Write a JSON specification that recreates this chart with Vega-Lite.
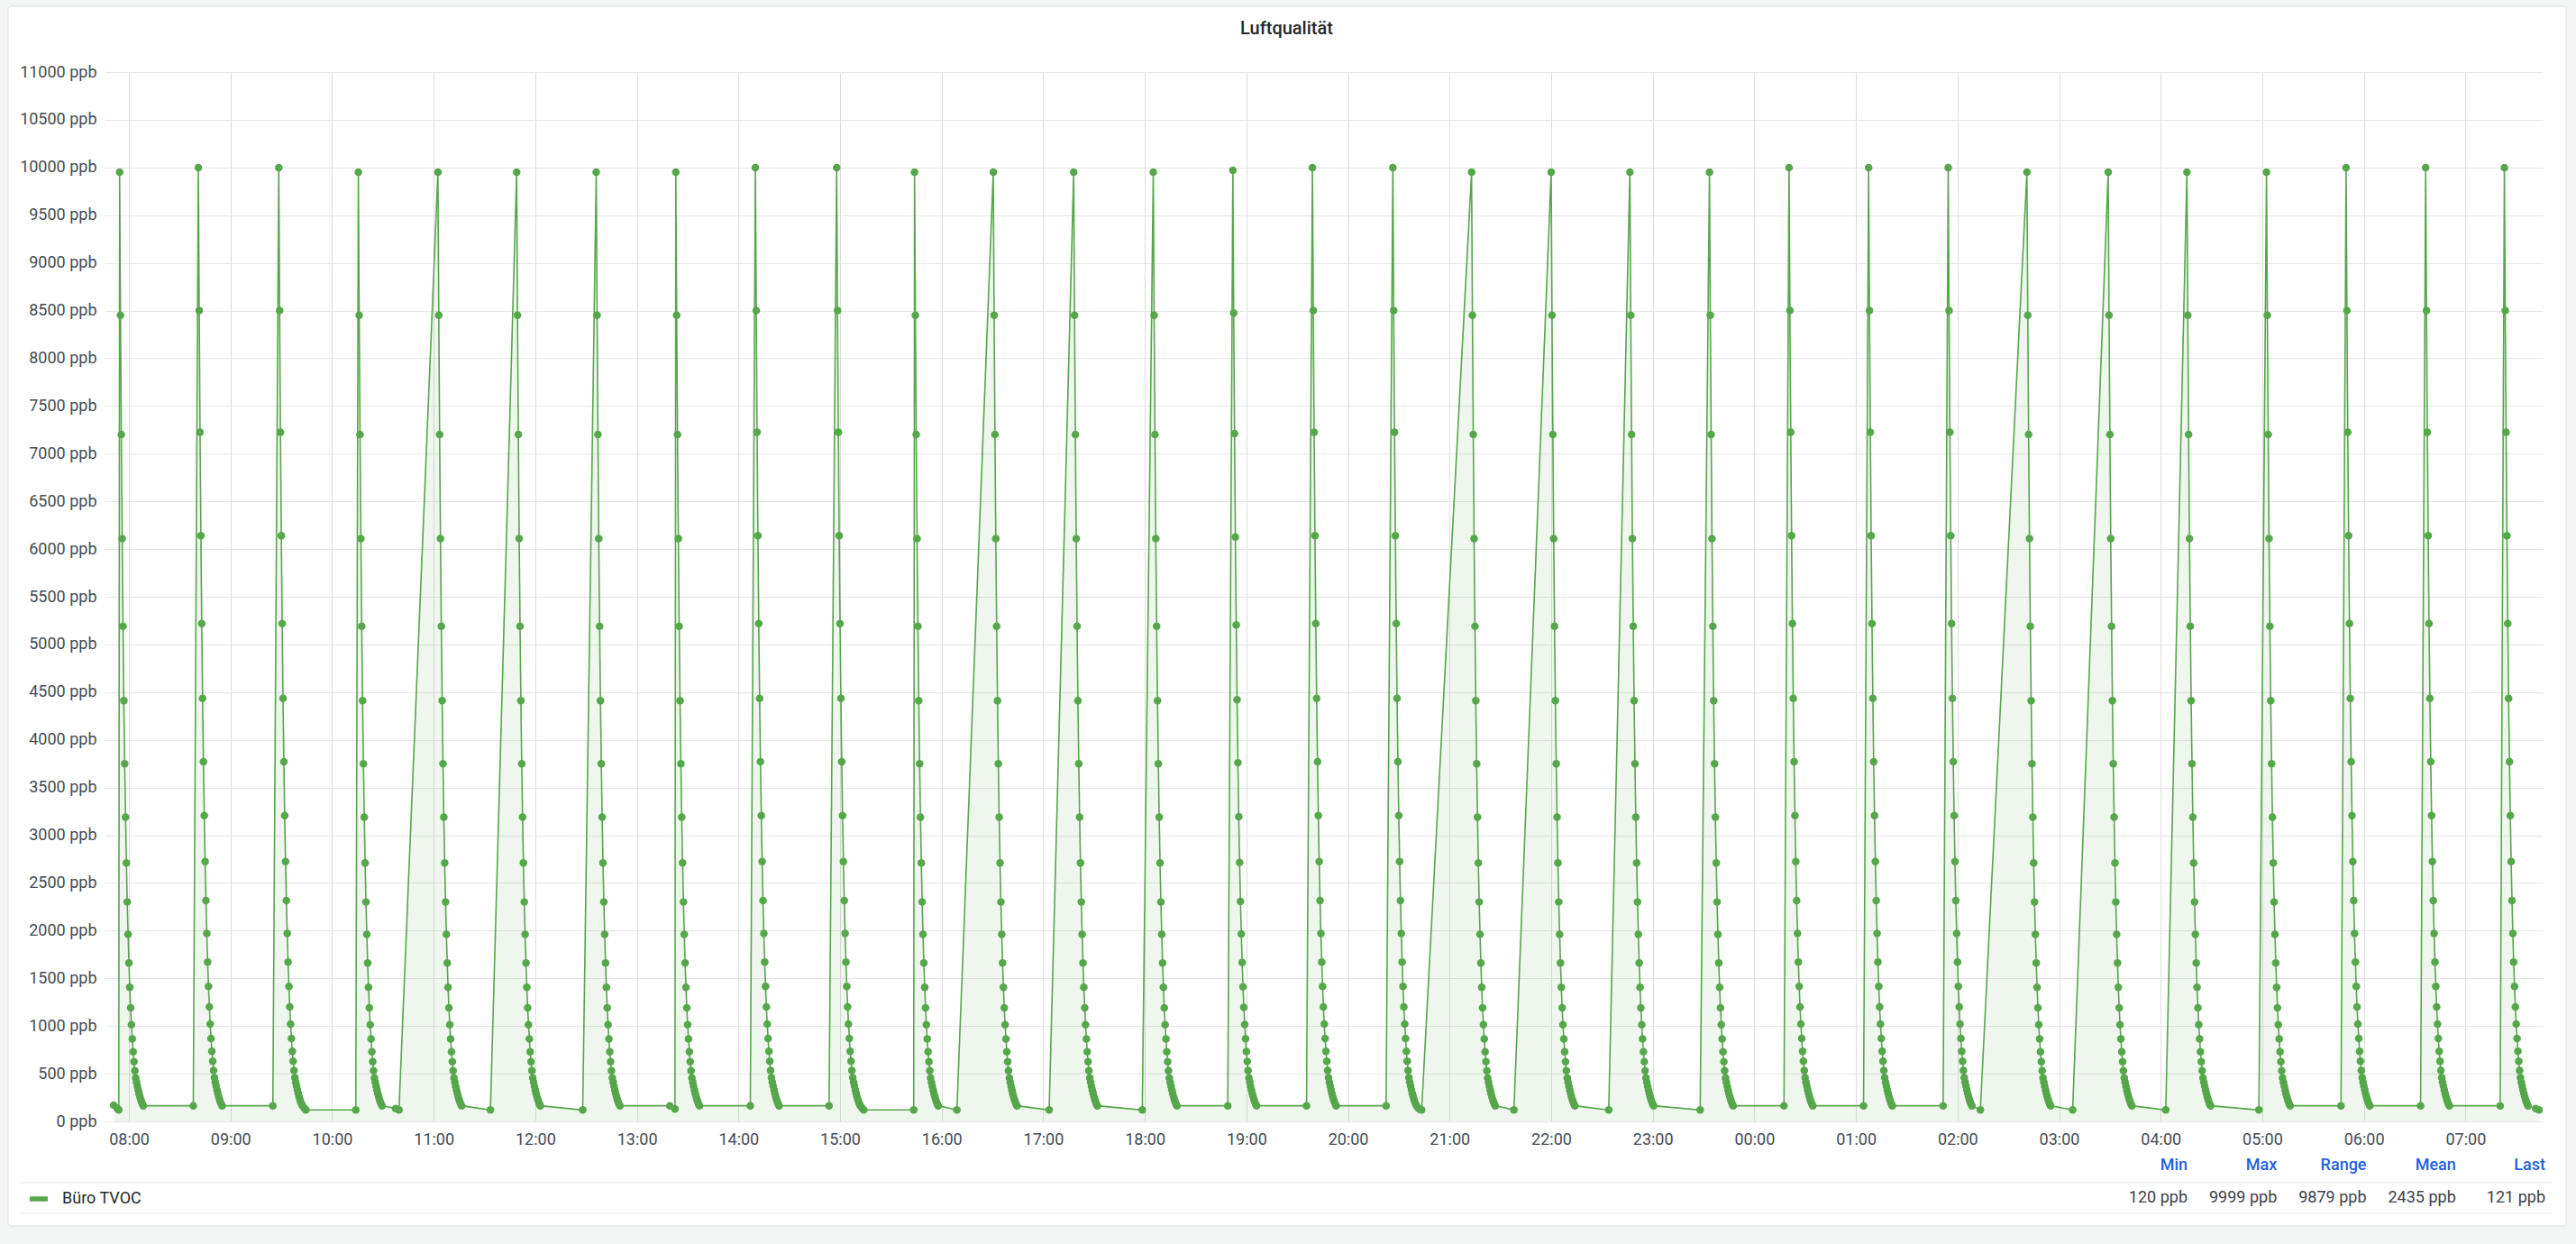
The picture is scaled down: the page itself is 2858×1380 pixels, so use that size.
{
"$schema": "https://vega.github.io/schema/vega-lite/v6.json",
"autosize": {"type": "none"},
"width": 2705,
"height": 1164,
"padding": {"left": 116, "top": 80, "right": 37, "bottom": 136},
"background": "white",
"title": {"text": "Luftqualität", "font": "Roboto", "fontSize": 20, "fontWeight": 500, "color": "#24292e", "anchor": "middle", "frame": "group", "dx": -41, "offset": -71, "baseline": "alphabetic"},
"config": {
  "view": {"stroke": null},
  "font": "Roboto",
  "axis": {"labelFont": "Roboto", "labelFontSize": 18, "labelColor": "#464c54", "domain": false, "ticks": false, "title": null, "labelOverlap": false, "labelFlush": false}
},
"datasets": {
"stats": [{"stat":"Min","value":"120 ppb"},{"stat":"Max","value":"9999 ppb"},{"stat":"Range","value":"9879 ppb"},{"stat":"Mean","value":"2435 ppb"},{"stat":"Last","value":"121 ppb"}],
"tvoc": [
{"t":-9,"v":170},{"t":-7,"v":140},{"t":-6,"v":120},
{"t":-5.5,"v":9950},{"t":-5,"v":8450},{"t":-4.5,"v":7200},{"t":-4,"v":6110},{"t":-3.5,"v":5190},{"t":-3,"v":4410},{"t":-2.5,"v":3750},{"t":-2,"v":3190},{"t":-1.5,"v":2710},{"t":-1,"v":2300},{"t":-0.5,"v":1960},{"t":0,"v":1660},{"t":0.5,"v":1405},{"t":1,"v":1190},{"t":1.5,"v":1013},{"t":2,"v":865},{"t":2.5,"v":730},{"t":3,"v":626},{"t":3.5,"v":532},{"t":4,"v":455},{"t":4.5,"v":410},{"t":5,"v":368},{"t":5.5,"v":328},{"t":6,"v":290},{"t":6.5,"v":258},{"t":7,"v":228},{"t":7.5,"v":202},{"t":8,"v":180},{"t":8.5,"v":164},
{"t":38,"v":164},
{"t":41,"v":9999},{"t":41.5,"v":8500},{"t":42,"v":7225},{"t":42.5,"v":6140},{"t":43,"v":5220},{"t":43.5,"v":4435},{"t":44,"v":3770},{"t":44.5,"v":3205},{"t":45,"v":2725},{"t":45.5,"v":2315},{"t":46,"v":1970},{"t":46.5,"v":1670},{"t":47,"v":1415},{"t":47.5,"v":1200},{"t":48,"v":1020},{"t":48.5,"v":870},{"t":49,"v":735},{"t":49.5,"v":630},{"t":50,"v":535},{"t":50.5,"v":458},{"t":51,"v":412},{"t":51.5,"v":370},{"t":52,"v":330},{"t":52.5,"v":292},{"t":53,"v":260},{"t":53.5,"v":230},{"t":54,"v":203},{"t":54.5,"v":181},{"t":55,"v":164},
{"t":85,"v":164},
{"t":88.5,"v":9999},{"t":89,"v":8500},{"t":89.5,"v":7225},{"t":90,"v":6140},{"t":90.5,"v":5220},{"t":91,"v":4435},{"t":91.5,"v":3770},{"t":92,"v":3205},{"t":92.5,"v":2725},{"t":93,"v":2315},{"t":93.5,"v":1970},{"t":94,"v":1670},{"t":94.5,"v":1415},{"t":95,"v":1200},{"t":95.5,"v":1020},{"t":96,"v":870},{"t":96.5,"v":735},{"t":97,"v":630},{"t":97.5,"v":535},{"t":98,"v":458},{"t":98.5,"v":412},{"t":99,"v":370},{"t":99.5,"v":330},{"t":100,"v":292},{"t":100.5,"v":260},{"t":101,"v":230},{"t":101.5,"v":203},{"t":102,"v":181},{"t":102.5,"v":164},
{"t":103.5,"v":140},{"t":104.5,"v":120},
{"t":134,"v":120},
{"t":135.5,"v":9950},{"t":136,"v":8450},{"t":136.5,"v":7200},{"t":137,"v":6110},{"t":137.5,"v":5190},{"t":138,"v":4410},{"t":138.5,"v":3750},{"t":139,"v":3190},{"t":139.5,"v":2710},{"t":140,"v":2300},{"t":140.5,"v":1960},{"t":141,"v":1660},{"t":141.5,"v":1405},{"t":142,"v":1190},{"t":142.5,"v":1013},{"t":143,"v":865},{"t":143.5,"v":730},{"t":144,"v":626},{"t":144.5,"v":532},{"t":145,"v":455},{"t":145.5,"v":410},{"t":146,"v":368},{"t":146.5,"v":328},{"t":147,"v":290},{"t":147.5,"v":258},{"t":148,"v":228},{"t":148.5,"v":202},{"t":149,"v":180},{"t":149.5,"v":164},
{"t":157.5,"v":135},{"t":159.5,"v":120},
{"t":182.5,"v":9950},{"t":183,"v":8450},{"t":183.5,"v":7200},{"t":184,"v":6110},{"t":184.5,"v":5190},{"t":185,"v":4410},{"t":185.5,"v":3750},{"t":186,"v":3190},{"t":186.5,"v":2710},{"t":187,"v":2300},{"t":187.5,"v":1960},{"t":188,"v":1660},{"t":188.5,"v":1405},{"t":189,"v":1190},{"t":189.5,"v":1013},{"t":190,"v":865},{"t":190.5,"v":730},{"t":191,"v":626},{"t":191.5,"v":532},{"t":192,"v":455},{"t":192.5,"v":410},{"t":193,"v":368},{"t":193.5,"v":328},{"t":194,"v":290},{"t":194.5,"v":258},{"t":195,"v":228},{"t":195.5,"v":202},{"t":196,"v":180},{"t":196.5,"v":164},
{"t":213.5,"v":120},
{"t":229,"v":9950},{"t":229.5,"v":8450},{"t":230,"v":7200},{"t":230.5,"v":6110},{"t":231,"v":5190},{"t":231.5,"v":4410},{"t":232,"v":3750},{"t":232.5,"v":3190},{"t":233,"v":2710},{"t":233.5,"v":2300},{"t":234,"v":1960},{"t":234.5,"v":1660},{"t":235,"v":1405},{"t":235.5,"v":1190},{"t":236,"v":1013},{"t":236.5,"v":865},{"t":237,"v":730},{"t":237.5,"v":626},{"t":238,"v":532},{"t":238.5,"v":455},{"t":239,"v":410},{"t":239.5,"v":368},{"t":240,"v":328},{"t":240.5,"v":290},{"t":241,"v":258},{"t":241.5,"v":228},{"t":242,"v":202},{"t":242.5,"v":180},{"t":243,"v":164},
{"t":268,"v":120},
{"t":276,"v":9950},{"t":276.5,"v":8450},{"t":277,"v":7200},{"t":277.5,"v":6110},{"t":278,"v":5190},{"t":278.5,"v":4410},{"t":279,"v":3750},{"t":279.5,"v":3190},{"t":280,"v":2710},{"t":280.5,"v":2300},{"t":281,"v":1960},{"t":281.5,"v":1660},{"t":282,"v":1405},{"t":282.5,"v":1190},{"t":283,"v":1013},{"t":283.5,"v":865},{"t":284,"v":730},{"t":284.5,"v":626},{"t":285,"v":532},{"t":285.5,"v":455},{"t":286,"v":410},{"t":286.5,"v":368},{"t":287,"v":328},{"t":287.5,"v":290},{"t":288,"v":258},{"t":288.5,"v":228},{"t":289,"v":202},{"t":289.5,"v":180},{"t":290,"v":164},
{"t":319.5,"v":164},{"t":322.5,"v":130},
{"t":323,"v":9950},{"t":323.5,"v":8450},{"t":324,"v":7200},{"t":324.5,"v":6110},{"t":325,"v":5190},{"t":325.5,"v":4410},{"t":326,"v":3750},{"t":326.5,"v":3190},{"t":327,"v":2710},{"t":327.5,"v":2300},{"t":328,"v":1960},{"t":328.5,"v":1660},{"t":329,"v":1405},{"t":329.5,"v":1190},{"t":330,"v":1013},{"t":330.5,"v":865},{"t":331,"v":730},{"t":331.5,"v":626},{"t":332,"v":532},{"t":332.5,"v":455},{"t":333,"v":410},{"t":333.5,"v":368},{"t":334,"v":328},{"t":334.5,"v":290},{"t":335,"v":258},{"t":335.5,"v":228},{"t":336,"v":202},{"t":336.5,"v":180},{"t":337,"v":164},
{"t":367,"v":164},
{"t":370,"v":9999},{"t":370.5,"v":8500},{"t":371,"v":7225},{"t":371.5,"v":6140},{"t":372,"v":5220},{"t":372.5,"v":4435},{"t":373,"v":3770},{"t":373.5,"v":3205},{"t":374,"v":2725},{"t":374.5,"v":2315},{"t":375,"v":1970},{"t":375.5,"v":1670},{"t":376,"v":1415},{"t":376.5,"v":1200},{"t":377,"v":1020},{"t":377.5,"v":870},{"t":378,"v":735},{"t":378.5,"v":630},{"t":379,"v":535},{"t":379.5,"v":458},{"t":380,"v":412},{"t":380.5,"v":370},{"t":381,"v":330},{"t":381.5,"v":292},{"t":382,"v":260},{"t":382.5,"v":230},{"t":383,"v":203},{"t":383.5,"v":181},{"t":384,"v":164},
{"t":413.5,"v":164},
{"t":418,"v":9999},{"t":418.5,"v":8500},{"t":419,"v":7225},{"t":419.5,"v":6140},{"t":420,"v":5220},{"t":420.5,"v":4435},{"t":421,"v":3770},{"t":421.5,"v":3205},{"t":422,"v":2725},{"t":422.5,"v":2315},{"t":423,"v":1970},{"t":423.5,"v":1670},{"t":424,"v":1415},{"t":424.5,"v":1200},{"t":425,"v":1020},{"t":425.5,"v":870},{"t":426,"v":735},{"t":426.5,"v":630},{"t":427,"v":535},{"t":427.5,"v":458},{"t":428,"v":412},{"t":428.5,"v":370},{"t":429,"v":330},{"t":429.5,"v":292},{"t":430,"v":260},{"t":430.5,"v":230},{"t":431,"v":203},{"t":431.5,"v":181},{"t":432,"v":164},
{"t":433,"v":140},{"t":434,"v":120},{"t":463.5,"v":120},
{"t":464,"v":9950},{"t":464.5,"v":8450},{"t":465,"v":7200},{"t":465.5,"v":6110},{"t":466,"v":5190},{"t":466.5,"v":4410},{"t":467,"v":3750},{"t":467.5,"v":3190},{"t":468,"v":2710},{"t":468.5,"v":2300},{"t":469,"v":1960},{"t":469.5,"v":1660},{"t":470,"v":1405},{"t":470.5,"v":1190},{"t":471,"v":1013},{"t":471.5,"v":865},{"t":472,"v":730},{"t":472.5,"v":626},{"t":473,"v":532},{"t":473.5,"v":455},{"t":474,"v":410},{"t":474.5,"v":368},{"t":475,"v":328},{"t":475.5,"v":290},{"t":476,"v":258},{"t":476.5,"v":228},{"t":477,"v":202},{"t":477.5,"v":180},{"t":478,"v":164},
{"t":489,"v":120},
{"t":510.5,"v":9950},{"t":511,"v":8450},{"t":511.5,"v":7200},{"t":512,"v":6110},{"t":512.5,"v":5190},{"t":513,"v":4410},{"t":513.5,"v":3750},{"t":514,"v":3190},{"t":514.5,"v":2710},{"t":515,"v":2300},{"t":515.5,"v":1960},{"t":516,"v":1660},{"t":516.5,"v":1405},{"t":517,"v":1190},{"t":517.5,"v":1013},{"t":518,"v":865},{"t":518.5,"v":730},{"t":519,"v":626},{"t":519.5,"v":532},{"t":520,"v":455},{"t":520.5,"v":410},{"t":521,"v":368},{"t":521.5,"v":328},{"t":522,"v":290},{"t":522.5,"v":258},{"t":523,"v":228},{"t":523.5,"v":202},{"t":524,"v":180},{"t":524.5,"v":164},
{"t":543.5,"v":120},
{"t":558,"v":9950},{"t":558.5,"v":8450},{"t":559,"v":7200},{"t":559.5,"v":6110},{"t":560,"v":5190},{"t":560.5,"v":4410},{"t":561,"v":3750},{"t":561.5,"v":3190},{"t":562,"v":2710},{"t":562.5,"v":2300},{"t":563,"v":1960},{"t":563.5,"v":1660},{"t":564,"v":1405},{"t":564.5,"v":1190},{"t":565,"v":1013},{"t":565.5,"v":865},{"t":566,"v":730},{"t":566.5,"v":626},{"t":567,"v":532},{"t":567.5,"v":455},{"t":568,"v":410},{"t":568.5,"v":368},{"t":569,"v":328},{"t":569.5,"v":290},{"t":570,"v":258},{"t":570.5,"v":228},{"t":571,"v":202},{"t":571.5,"v":180},{"t":572,"v":164},
{"t":598.5,"v":120},
{"t":605,"v":9950},{"t":605.5,"v":8450},{"t":606,"v":7200},{"t":606.5,"v":6110},{"t":607,"v":5190},{"t":607.5,"v":4410},{"t":608,"v":3750},{"t":608.5,"v":3190},{"t":609,"v":2710},{"t":609.5,"v":2300},{"t":610,"v":1960},{"t":610.5,"v":1660},{"t":611,"v":1405},{"t":611.5,"v":1190},{"t":612,"v":1013},{"t":612.5,"v":865},{"t":613,"v":730},{"t":613.5,"v":626},{"t":614,"v":532},{"t":614.5,"v":455},{"t":615,"v":410},{"t":615.5,"v":368},{"t":616,"v":328},{"t":616.5,"v":290},{"t":617,"v":258},{"t":617.5,"v":228},{"t":618,"v":202},{"t":618.5,"v":180},{"t":619,"v":164},
{"t":649,"v":164},
{"t":652,"v":9970},{"t":652.5,"v":8475},{"t":653,"v":7210},{"t":653.5,"v":6125},{"t":654,"v":5205},{"t":654.5,"v":4420},{"t":655,"v":3760},{"t":655.5,"v":3195},{"t":656,"v":2715},{"t":656.5,"v":2305},{"t":657,"v":1965},{"t":657.5,"v":1665},{"t":658,"v":1410},{"t":658.5,"v":1195},{"t":659,"v":1016},{"t":659.5,"v":867},{"t":660,"v":732},{"t":660.5,"v":628},{"t":661,"v":533},{"t":661.5,"v":456},{"t":662,"v":411},{"t":662.5,"v":369},{"t":663,"v":329},{"t":663.5,"v":291},{"t":664,"v":259},{"t":664.5,"v":229},{"t":665,"v":202},{"t":665.5,"v":180},{"t":666,"v":164},
{"t":695.5,"v":164},
{"t":699,"v":9999},{"t":699.5,"v":8500},{"t":700,"v":7225},{"t":700.5,"v":6140},{"t":701,"v":5220},{"t":701.5,"v":4435},{"t":702,"v":3770},{"t":702.5,"v":3205},{"t":703,"v":2725},{"t":703.5,"v":2315},{"t":704,"v":1970},{"t":704.5,"v":1670},{"t":705,"v":1415},{"t":705.5,"v":1200},{"t":706,"v":1020},{"t":706.5,"v":870},{"t":707,"v":735},{"t":707.5,"v":630},{"t":708,"v":535},{"t":708.5,"v":458},{"t":709,"v":412},{"t":709.5,"v":370},{"t":710,"v":330},{"t":710.5,"v":292},{"t":711,"v":260},{"t":711.5,"v":230},{"t":712,"v":203},{"t":712.5,"v":181},{"t":713,"v":164},
{"t":742.5,"v":164},
{"t":746.5,"v":9999},{"t":747,"v":8500},{"t":747.5,"v":7225},{"t":748,"v":6140},{"t":748.5,"v":5220},{"t":749,"v":4435},{"t":749.5,"v":3770},{"t":750,"v":3205},{"t":750.5,"v":2725},{"t":751,"v":2315},{"t":751.5,"v":1970},{"t":752,"v":1670},{"t":752.5,"v":1415},{"t":753,"v":1200},{"t":753.5,"v":1020},{"t":754,"v":870},{"t":754.5,"v":735},{"t":755,"v":630},{"t":755.5,"v":535},{"t":756,"v":458},{"t":756.5,"v":412},{"t":757,"v":370},{"t":757.5,"v":330},{"t":758,"v":292},{"t":758.5,"v":260},{"t":759,"v":230},{"t":759.5,"v":203},{"t":760,"v":181},{"t":760.5,"v":164},
{"t":761.5,"v":140},{"t":762.5,"v":126},{"t":763.5,"v":120},
{"t":793,"v":9950},{"t":793.5,"v":8450},{"t":794,"v":7200},{"t":794.5,"v":6110},{"t":795,"v":5190},{"t":795.5,"v":4410},{"t":796,"v":3750},{"t":796.5,"v":3190},{"t":797,"v":2710},{"t":797.5,"v":2300},{"t":798,"v":1960},{"t":798.5,"v":1660},{"t":799,"v":1405},{"t":799.5,"v":1190},{"t":800,"v":1013},{"t":800.5,"v":865},{"t":801,"v":730},{"t":801.5,"v":626},{"t":802,"v":532},{"t":802.5,"v":455},{"t":803,"v":410},{"t":803.5,"v":368},{"t":804,"v":328},{"t":804.5,"v":290},{"t":805,"v":258},{"t":805.5,"v":228},{"t":806,"v":202},{"t":806.5,"v":180},{"t":807,"v":164},
{"t":818,"v":120},
{"t":840,"v":9950},{"t":840.5,"v":8450},{"t":841,"v":7200},{"t":841.5,"v":6110},{"t":842,"v":5190},{"t":842.5,"v":4410},{"t":843,"v":3750},{"t":843.5,"v":3190},{"t":844,"v":2710},{"t":844.5,"v":2300},{"t":845,"v":1960},{"t":845.5,"v":1660},{"t":846,"v":1405},{"t":846.5,"v":1190},{"t":847,"v":1013},{"t":847.5,"v":865},{"t":848,"v":730},{"t":848.5,"v":626},{"t":849,"v":532},{"t":849.5,"v":455},{"t":850,"v":410},{"t":850.5,"v":368},{"t":851,"v":328},{"t":851.5,"v":290},{"t":852,"v":258},{"t":852.5,"v":228},{"t":853,"v":202},{"t":853.5,"v":180},{"t":854,"v":164},
{"t":874,"v":120},
{"t":886.5,"v":9950},{"t":887,"v":8450},{"t":887.5,"v":7200},{"t":888,"v":6110},{"t":888.5,"v":5190},{"t":889,"v":4410},{"t":889.5,"v":3750},{"t":890,"v":3190},{"t":890.5,"v":2710},{"t":891,"v":2300},{"t":891.5,"v":1960},{"t":892,"v":1660},{"t":892.5,"v":1405},{"t":893,"v":1190},{"t":893.5,"v":1013},{"t":894,"v":865},{"t":894.5,"v":730},{"t":895,"v":626},{"t":895.5,"v":532},{"t":896,"v":455},{"t":896.5,"v":410},{"t":897,"v":368},{"t":897.5,"v":328},{"t":898,"v":290},{"t":898.5,"v":258},{"t":899,"v":228},{"t":899.5,"v":202},{"t":900,"v":180},{"t":900.5,"v":164},
{"t":928,"v":120},
{"t":933.5,"v":9950},{"t":934,"v":8450},{"t":934.5,"v":7200},{"t":935,"v":6110},{"t":935.5,"v":5190},{"t":936,"v":4410},{"t":936.5,"v":3750},{"t":937,"v":3190},{"t":937.5,"v":2710},{"t":938,"v":2300},{"t":938.5,"v":1960},{"t":939,"v":1660},{"t":939.5,"v":1405},{"t":940,"v":1190},{"t":940.5,"v":1013},{"t":941,"v":865},{"t":941.5,"v":730},{"t":942,"v":626},{"t":942.5,"v":532},{"t":943,"v":455},{"t":943.5,"v":410},{"t":944,"v":368},{"t":944.5,"v":328},{"t":945,"v":290},{"t":945.5,"v":258},{"t":946,"v":228},{"t":946.5,"v":202},{"t":947,"v":180},{"t":947.5,"v":164},
{"t":977.5,"v":164},
{"t":980.5,"v":9999},{"t":981,"v":8500},{"t":981.5,"v":7225},{"t":982,"v":6140},{"t":982.5,"v":5220},{"t":983,"v":4435},{"t":983.5,"v":3770},{"t":984,"v":3205},{"t":984.5,"v":2725},{"t":985,"v":2315},{"t":985.5,"v":1970},{"t":986,"v":1670},{"t":986.5,"v":1415},{"t":987,"v":1200},{"t":987.5,"v":1020},{"t":988,"v":870},{"t":988.5,"v":735},{"t":989,"v":630},{"t":989.5,"v":535},{"t":990,"v":458},{"t":990.5,"v":412},{"t":991,"v":370},{"t":991.5,"v":330},{"t":992,"v":292},{"t":992.5,"v":260},{"t":993,"v":230},{"t":993.5,"v":203},{"t":994,"v":181},{"t":994.5,"v":164},
{"t":1024.5,"v":164},
{"t":1027.5,"v":9999},{"t":1028,"v":8500},{"t":1028.5,"v":7225},{"t":1029,"v":6140},{"t":1029.5,"v":5220},{"t":1030,"v":4435},{"t":1030.5,"v":3770},{"t":1031,"v":3205},{"t":1031.5,"v":2725},{"t":1032,"v":2315},{"t":1032.5,"v":1970},{"t":1033,"v":1670},{"t":1033.5,"v":1415},{"t":1034,"v":1200},{"t":1034.5,"v":1020},{"t":1035,"v":870},{"t":1035.5,"v":735},{"t":1036,"v":630},{"t":1036.5,"v":535},{"t":1037,"v":458},{"t":1037.5,"v":412},{"t":1038,"v":370},{"t":1038.5,"v":330},{"t":1039,"v":292},{"t":1039.5,"v":260},{"t":1040,"v":230},{"t":1040.5,"v":203},{"t":1041,"v":181},{"t":1041.5,"v":164},
{"t":1071.5,"v":164},
{"t":1074.5,"v":9999},{"t":1075,"v":8500},{"t":1075.5,"v":7225},{"t":1076,"v":6140},{"t":1076.5,"v":5220},{"t":1077,"v":4435},{"t":1077.5,"v":3770},{"t":1078,"v":3205},{"t":1078.5,"v":2725},{"t":1079,"v":2315},{"t":1079.5,"v":1970},{"t":1080,"v":1670},{"t":1080.5,"v":1415},{"t":1081,"v":1200},{"t":1081.5,"v":1020},{"t":1082,"v":870},{"t":1082.5,"v":735},{"t":1083,"v":630},{"t":1083.5,"v":535},{"t":1084,"v":458},{"t":1084.5,"v":412},{"t":1085,"v":370},{"t":1085.5,"v":330},{"t":1086,"v":292},{"t":1086.5,"v":260},{"t":1087,"v":230},{"t":1087.5,"v":203},{"t":1088,"v":181},{"t":1088.5,"v":164},
{"t":1093.5,"v":120},
{"t":1121,"v":9950},{"t":1121.5,"v":8450},{"t":1122,"v":7200},{"t":1122.5,"v":6110},{"t":1123,"v":5190},{"t":1123.5,"v":4410},{"t":1124,"v":3750},{"t":1124.5,"v":3190},{"t":1125,"v":2710},{"t":1125.5,"v":2300},{"t":1126,"v":1960},{"t":1126.5,"v":1660},{"t":1127,"v":1405},{"t":1127.5,"v":1190},{"t":1128,"v":1013},{"t":1128.5,"v":865},{"t":1129,"v":730},{"t":1129.5,"v":626},{"t":1130,"v":532},{"t":1130.5,"v":455},{"t":1131,"v":410},{"t":1131.5,"v":368},{"t":1132,"v":328},{"t":1132.5,"v":290},{"t":1133,"v":258},{"t":1133.5,"v":228},{"t":1134,"v":202},{"t":1134.5,"v":180},{"t":1135,"v":164},
{"t":1148,"v":120},
{"t":1169,"v":9950},{"t":1169.5,"v":8450},{"t":1170,"v":7200},{"t":1170.5,"v":6110},{"t":1171,"v":5190},{"t":1171.5,"v":4410},{"t":1172,"v":3750},{"t":1172.5,"v":3190},{"t":1173,"v":2710},{"t":1173.5,"v":2300},{"t":1174,"v":1960},{"t":1174.5,"v":1660},{"t":1175,"v":1405},{"t":1175.5,"v":1190},{"t":1176,"v":1013},{"t":1176.5,"v":865},{"t":1177,"v":730},{"t":1177.5,"v":626},{"t":1178,"v":532},{"t":1178.5,"v":455},{"t":1179,"v":410},{"t":1179.5,"v":368},{"t":1180,"v":328},{"t":1180.5,"v":290},{"t":1181,"v":258},{"t":1181.5,"v":228},{"t":1182,"v":202},{"t":1182.5,"v":180},{"t":1183,"v":164},
{"t":1203,"v":120},
{"t":1215.5,"v":9950},{"t":1216,"v":8450},{"t":1216.5,"v":7200},{"t":1217,"v":6110},{"t":1217.5,"v":5190},{"t":1218,"v":4410},{"t":1218.5,"v":3750},{"t":1219,"v":3190},{"t":1219.5,"v":2710},{"t":1220,"v":2300},{"t":1220.5,"v":1960},{"t":1221,"v":1660},{"t":1221.5,"v":1405},{"t":1222,"v":1190},{"t":1222.5,"v":1013},{"t":1223,"v":865},{"t":1223.5,"v":730},{"t":1224,"v":626},{"t":1224.5,"v":532},{"t":1225,"v":455},{"t":1225.5,"v":410},{"t":1226,"v":368},{"t":1226.5,"v":328},{"t":1227,"v":290},{"t":1227.5,"v":258},{"t":1228,"v":228},{"t":1228.5,"v":202},{"t":1229,"v":180},{"t":1229.5,"v":164},
{"t":1258,"v":120},
{"t":1262.5,"v":9950},{"t":1263,"v":8450},{"t":1263.5,"v":7200},{"t":1264,"v":6110},{"t":1264.5,"v":5190},{"t":1265,"v":4410},{"t":1265.5,"v":3750},{"t":1266,"v":3190},{"t":1266.5,"v":2710},{"t":1267,"v":2300},{"t":1267.5,"v":1960},{"t":1268,"v":1660},{"t":1268.5,"v":1405},{"t":1269,"v":1190},{"t":1269.5,"v":1013},{"t":1270,"v":865},{"t":1270.5,"v":730},{"t":1271,"v":626},{"t":1271.5,"v":532},{"t":1272,"v":455},{"t":1272.5,"v":410},{"t":1273,"v":368},{"t":1273.5,"v":328},{"t":1274,"v":290},{"t":1274.5,"v":258},{"t":1275,"v":228},{"t":1275.5,"v":202},{"t":1276,"v":180},{"t":1276.5,"v":164},
{"t":1306.5,"v":164},
{"t":1309.5,"v":9999},{"t":1310,"v":8500},{"t":1310.5,"v":7225},{"t":1311,"v":6140},{"t":1311.5,"v":5220},{"t":1312,"v":4435},{"t":1312.5,"v":3770},{"t":1313,"v":3205},{"t":1313.5,"v":2725},{"t":1314,"v":2315},{"t":1314.5,"v":1970},{"t":1315,"v":1670},{"t":1315.5,"v":1415},{"t":1316,"v":1200},{"t":1316.5,"v":1020},{"t":1317,"v":870},{"t":1317.5,"v":735},{"t":1318,"v":630},{"t":1318.5,"v":535},{"t":1319,"v":458},{"t":1319.5,"v":412},{"t":1320,"v":370},{"t":1320.5,"v":330},{"t":1321,"v":292},{"t":1321.5,"v":260},{"t":1322,"v":230},{"t":1322.5,"v":203},{"t":1323,"v":181},{"t":1323.5,"v":164},
{"t":1353.5,"v":164},
{"t":1356.5,"v":9999},{"t":1357,"v":8500},{"t":1357.5,"v":7225},{"t":1358,"v":6140},{"t":1358.5,"v":5220},{"t":1359,"v":4435},{"t":1359.5,"v":3770},{"t":1360,"v":3205},{"t":1360.5,"v":2725},{"t":1361,"v":2315},{"t":1361.5,"v":1970},{"t":1362,"v":1670},{"t":1362.5,"v":1415},{"t":1363,"v":1200},{"t":1363.5,"v":1020},{"t":1364,"v":870},{"t":1364.5,"v":735},{"t":1365,"v":630},{"t":1365.5,"v":535},{"t":1366,"v":458},{"t":1366.5,"v":412},{"t":1367,"v":370},{"t":1367.5,"v":330},{"t":1368,"v":292},{"t":1368.5,"v":260},{"t":1369,"v":230},{"t":1369.5,"v":203},{"t":1370,"v":181},{"t":1370.5,"v":164},
{"t":1400.5,"v":164},
{"t":1403,"v":9999},{"t":1403.5,"v":8500},{"t":1404,"v":7225},{"t":1404.5,"v":6140},{"t":1405,"v":5220},{"t":1405.5,"v":4435},{"t":1406,"v":3770},{"t":1406.5,"v":3205},{"t":1407,"v":2725},{"t":1407.5,"v":2315},{"t":1408,"v":1970},{"t":1408.5,"v":1670},{"t":1409,"v":1415},{"t":1409.5,"v":1200},{"t":1410,"v":1020},{"t":1410.5,"v":870},{"t":1411,"v":735},{"t":1411.5,"v":630},{"t":1412,"v":535},{"t":1412.5,"v":458},{"t":1413,"v":412},{"t":1413.5,"v":370},{"t":1414,"v":330},{"t":1414.5,"v":292},{"t":1415,"v":260},{"t":1415.5,"v":230},{"t":1416,"v":203},{"t":1416.5,"v":181},{"t":1417,"v":164},
{"t":1421.5,"v":135},{"t":1423.5,"v":121}
]
},
"resolve": {"scale": {"x": "independent"}},
"layer": [
 {
  "layer": [
   {
    "data": {"name": "tvoc"},
    "mark": {"type": "area", "color": "#56A64B", "opacity": 0.1},
    "encoding": {
     "x": {"field": "t", "type": "quantitative", "scale": {"domain": [-14.4, 1425.6], "nice": false, "zero": false},
       "axis": {"values": [0,60,120,180,240,300,360,420,480,540,600,660,720,780,840,900,960,1020,1080,1140,1200,1260,1320,1380], "labelExpr": "timeFormat(datetime(2022, 0, 10, 8, datum.value), '%H:%M')", "grid": true, "gridColor": "#dedede", "labelPadding": 11}},
     "y": {"field": "v", "type": "quantitative", "scale": {"domain": [0, 11000], "nice": false},
       "axis": {"values": [0,500,1000,1500,2000,2500,3000,3500,4000,4500,5000,5500,6000,6500,7000,7500,8000,8500,9000,9500,10000,10500,11000], "labelExpr": "datum.value + ' ppb'", "grid": true, "gridColor": "#e6e6e6", "labelPadding": 9}}
    }
   },
   {
    "data": {"name": "tvoc"},
    "mark": {"type": "line", "strokeWidth": 1.6},
    "encoding": {
     "x": {"field": "t", "type": "quantitative"},
     "y": {"field": "v", "type": "quantitative"},
     "color": {"datum": "Büro TVOC", "type": "nominal", "scale": {"range": ["#56A64B"]},
       "legend": {"title": null, "orient": "none", "legendX": -86, "legendY": 1237, "symbolType": "stroke", "symbolSize": 400, "symbolStrokeWidth": 5.5, "labelFont": "Roboto", "labelFontSize": 18, "labelColor": "#24292e", "labelOffset": 13, "padding": 0}}
    }
   },
   {
    "data": {"name": "tvoc"},
    "mark": {"type": "circle", "size": 72, "color": "#56A64B", "opacity": 1},
    "encoding": {
     "x": {"field": "t", "type": "quantitative"},
     "y": {"field": "v", "type": "quantitative"}
    }
   },
   {
    "data": {"values": [{}]},
    "mark": {"type": "rect", "filled": false, "stroke": "#f4f5f5", "strokeWidth": 20},
    "encoding": {"x": {"datum": -76.7, "type": "quantitative"}, "x2": {"datum": 1444.7}, "y": {"datum": 11784, "type": "quantitative"}, "y2": {"datum": -1190.7}}
   },
   {
    "data": {"values": [{}]},
    "mark": {"type": "rect", "filled": false, "stroke": "#dcdfe2", "strokeWidth": 1, "cornerRadius": 3},
    "encoding": {"x": {"datum": -71.36, "type": "quantitative"}, "x2": {"datum": 1439.4}, "y": {"datum": 11690, "type": "quantitative"}, "y2": {"datum": -1096.2}}
   },
   {
    "data": {"values": [{}]},
    "mark": {"type": "rule", "color": "#e4e6e8", "strokeWidth": 1},
    "encoding": {"x": {"datum": -64.44, "type": "quantitative"}, "x2": {"datum": 1431.4}, "y": {"datum": -642.6, "type": "quantitative"}}
   },
   {
    "data": {"values": [{}]},
    "mark": {"type": "rule", "color": "#e4e6e8", "strokeWidth": 1},
    "encoding": {"x": {"datum": -64.44, "type": "quantitative"}, "x2": {"datum": 1431.4}, "y": {"datum": -963.9, "type": "quantitative"}}
   }
  ]
 },
 {
  "data": {"name": "stats"},
  "encoding": {
   "x": {"field": "stat", "type": "nominal", "scale": {"type": "point", "domain": ["Min", "Max", "Range", "Mean", "Last"], "range": [2311, 2708], "padding": 0}, "axis": null}
  },
  "layer": [
   {"mark": {"type": "text", "align": "right", "baseline": "middle", "font": "Roboto", "fontSize": 18, "fontWeight": 500, "color": "#1f62e0"},
    "encoding": {"text": {"field": "stat"}, "y": {"datum": -463, "type": "quantitative"}}},
   {"mark": {"type": "text", "align": "right", "baseline": "middle", "font": "Roboto", "fontSize": 18, "color": "#3d4249"},
    "encoding": {"text": {"field": "value"}, "y": {"datum": -803, "type": "quantitative"}}}
  ]
 }
]
}
